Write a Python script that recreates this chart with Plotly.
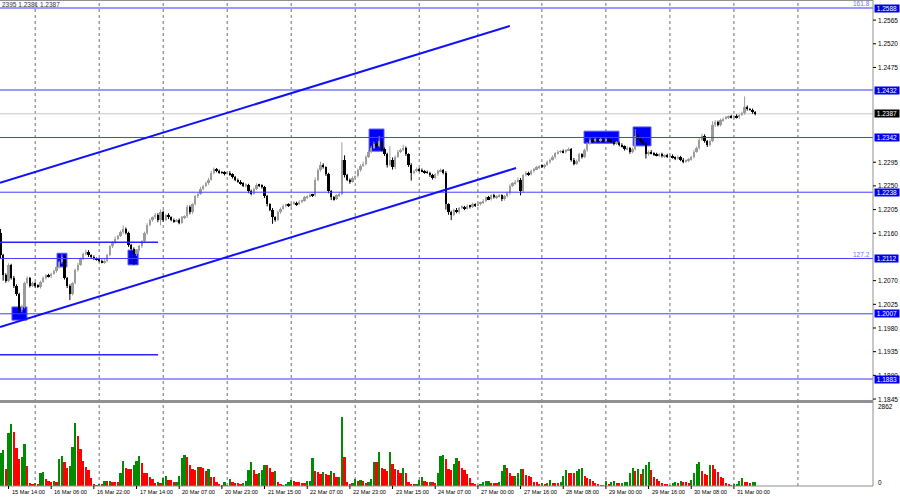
import plotly.graph_objects as go

# ---------------- data ----------------
first_open = 1.2160
closes = [
    1.2118, 1.2080, 1.2070, 1.2100, 1.2075, 1.2060, 1.2045, 1.2015, 1.2020, 1.2065,
    1.2075, 1.2060, 1.2065, 1.2060, 1.2058, 1.2068, 1.2075, 1.2080, 1.2078, 1.2083,
    1.2088, 1.2095, 1.2105, 1.2115, 1.2075, 1.2060, 1.2045, 1.2065, 1.2090, 1.2100,
    1.2112, 1.2120, 1.2125, 1.2118, 1.2115, 1.2112, 1.2110, 1.2108, 1.2105, 1.2108,
    1.2118, 1.2135, 1.2142, 1.2150, 1.2155, 1.2162, 1.2168, 1.2160, 1.2138, 1.2130,
    1.2120, 1.2128, 1.2135, 1.2145, 1.2160, 1.2175, 1.2185, 1.2190, 1.2195, 1.2185,
    1.2200, 1.2185, 1.2195, 1.2190, 1.2185, 1.2183, 1.2185, 1.2180, 1.2190, 1.2192,
    1.2210, 1.2200, 1.2215, 1.2230, 1.2235, 1.2245, 1.2250, 1.2255, 1.2262, 1.2275,
    1.2282, 1.2278, 1.2276, 1.2275, 1.2273, 1.2275, 1.2272, 1.2266, 1.2262, 1.2258,
    1.2255, 1.2250, 1.2252, 1.2240, 1.2235, 1.2245, 1.2252, 1.2250, 1.2248, 1.2230,
    1.2215, 1.2205, 1.2190, 1.2185, 1.2200, 1.2207, 1.2212, 1.2214, 1.2212, 1.2216,
    1.2218, 1.2215, 1.2220, 1.2222, 1.2228, 1.2230, 1.2233, 1.2232, 1.2262, 1.2280,
    1.2290, 1.2285, 1.2272, 1.2240, 1.2228, 1.2225, 1.2232, 1.2235, 1.2300, 1.2270,
    1.2262, 1.2258, 1.2265, 1.2268, 1.2280, 1.2288, 1.2292, 1.2305, 1.2315, 1.2322,
    1.2330, 1.2325, 1.2335, 1.2320, 1.2310, 1.2290, 1.2300, 1.2285, 1.2305, 1.2315,
    1.2318, 1.2322, 1.2310, 1.2290, 1.2275, 1.2278, 1.2282, 1.2280, 1.2278, 1.2276,
    1.2275, 1.2270, 1.2265, 1.2272, 1.2278, 1.2280, 1.2275, 1.2215, 1.2200, 1.2195,
    1.2205, 1.2200, 1.2208, 1.2210, 1.2207, 1.2212, 1.2210, 1.2215, 1.2213, 1.2216,
    1.2218, 1.2222, 1.2228, 1.2225, 1.2232, 1.2228, 1.2230, 1.2232, 1.2225, 1.2230,
    1.2236, 1.2250, 1.2255, 1.2258, 1.2262, 1.2240, 1.2270, 1.2275, 1.2272, 1.2278,
    1.2282, 1.2285, 1.2288, 1.2286, 1.2290, 1.2295, 1.2300, 1.2305, 1.2312, 1.2315,
    1.2316, 1.2314, 1.2318, 1.2320, 1.2300, 1.2292, 1.2298, 1.2310, 1.2305, 1.2318,
    1.2330, 1.2338, 1.2335, 1.2340, 1.2336, 1.2338, 1.2335, 1.2340, 1.2337, 1.2334,
    1.2330, 1.2332, 1.2328, 1.2325, 1.2320, 1.2322, 1.2315, 1.2320, 1.2345, 1.2340,
    1.2335, 1.2330, 1.2310, 1.2315, 1.2312, 1.2310, 1.2308, 1.2310, 1.2306, 1.2308,
    1.2305, 1.2307, 1.2304, 1.2302, 1.2305, 1.2300, 1.2296, 1.2298, 1.2300, 1.2305,
    1.2315, 1.2322, 1.2338, 1.2345, 1.2335, 1.2328, 1.2335, 1.2365, 1.2372, 1.2365,
    1.2375, 1.2378, 1.2380, 1.2382, 1.2380, 1.2383, 1.2380, 1.2385, 1.2388, 1.2400,
    1.2396, 1.2395, 1.2390, 1.2387,
]
upper_wick_pips = [
    8, 3, 4, 3, 2, 4, 3, 2, 4, 3,  3, 2, 3, 2, 3, 2, 3, 2, 3, 2,
    3, 2, 3, 5, 3, 2, 3, 2, 3, 4,  2, 3, 4, 3, 2, 3, 2, 3, 2, 3,
    3, 2, 3, 4, 2, 3, 7, 3, 3, 2,  3, 2, 3, 2, 3, 4, 3, 2, 3, 3,
    5, 3, 2, 3, 2, 3, 2, 3, 3, 2,  4, 3, 2, 3, 2, 3, 2, 3, 3, 4,
    3, 2, 3, 2, 3, 2, 3, 2, 3, 2,  3, 2, 3, 2, 3, 2, 3, 2, 3, 2,
    3, 2, 3, 2, 3, 2, 3, 2, 3, 2,  3, 2, 3, 2, 3, 2, 3, 2, 4, 3,
    6, 3, 2, 3, 2, 3, 2, 3, 33, 8, 3, 2, 3, 2, 3, 3, 4, 3, 3, 4,
    4, 3, 10, 4, 3, 3, 25, 4, 3, 3, 3, 6, 3, 2, 3, 2, 3, 2, 3, 2,
    3, 2, 3, 2, 3, 3, 2, 3, 2, 3,  2, 3, 2, 3, 2, 3, 2, 3, 2, 3,
    2, 3, 2, 3, 2, 3, 2, 3, 2, 3,  3, 3, 2, 3, 4, 3, 2, 3, 2, 3,
    2, 3, 2, 3, 2, 3, 2, 3, 2, 3,  2, 3, 2, 3, 2, 3, 2, 3, 2, 3,
    3, 3, 2, 3, 2, 3, 2, 3, 2, 3,  2, 3, 2, 3, 2, 3, 2, 3, 13, 4,
    3, 2, 3, 2, 3, 2, 3, 2, 3, 2,  3, 2, 3, 2, 3, 2, 3, 2, 3, 2,
    3, 3, 4, 4, 3, 2, 3, 8, 3, 2,  3, 2, 3, 2, 3, 2, 3, 2, 3, 20,
    3, 2, 2, 2,
]
lower_wick_pips = [
    5, 10, 4, 3, 3, 4, 4, 7, 5, 3,  2, 3, 2, 3, 2, 3, 2, 3, 2, 3,
    2, 3, 2, 3, 3, 4, 12, 3, 2, 3,  2, 3, 2, 3, 2, 3, 2, 3, 2, 3,
    3, 2, 3, 2, 3, 2, 3, 2, 4, 3,  20, 3, 2, 3, 2, 3, 2, 3, 3, 4,
    10, 3, 2, 3, 2, 3, 2, 3, 2, 3,  3, 4, 3, 2, 3, 2, 3, 2, 3, 2,
    3, 2, 3, 2, 3, 2, 3, 2, 3, 2,  3, 2, 3, 4, 3, 2, 3, 2, 3, 3,
    4, 3, 12, 3, 2, 3, 2, 3, 2, 3,  2, 3, 2, 3, 2, 3, 2, 3, 3, 3,
    3, 2, 3, 4, 5, 3, 2, 3, 3, 4,  3, 4, 2, 3, 2, 3, 2, 3, 2, 3,
    2, 3, 2, 4, 3, 5, 3, 4, 3, 2,  3, 2, 3, 4, 15, 3, 2, 3, 2, 3,
    2, 3, 3, 2, 3, 2, 3, 10, 5, 10,  3, 2, 3, 2, 3, 2, 3, 2, 3, 2,
    3, 2, 3, 2, 3, 2, 3, 2, 4, 3,  2, 3, 2, 3, 2, 8, 3, 2, 3, 2,
    3, 2, 3, 2, 3, 2, 3, 2, 3, 2,  3, 2, 3, 2, 4, 3, 2, 3, 3, 2,
    3, 2, 3, 2, 3, 2, 3, 2, 3, 2,  3, 2, 3, 2, 3, 2, 4, 3, 3, 2,
    3, 2, 8, 3, 2, 3, 2, 3, 2, 3,  2, 3, 2, 3, 2, 3, 3, 2, 3, 2,
    3, 2, 3, 2, 3, 4, 3, 2, 3, 2,  2, 3, 2, 3, 2, 3, 2, 3, 2, 3,
    3, 2, 3, 3,
]
volumes = [
    1200, 1284, 600, 1920, 2220, 1944, 1380, 960, 1044, 1500,
    720, 120, 60, 120, 84, 456, 504, 240, 180, 156,
    180, 156, 960, 1080, 864, 660, 720, 1404, 2256, 1800,
    1320, 900, 684, 564, 276, 84, 36, 84, 60, 180,
    170, 185, 160, 150, 140, 480, 900, 636, 624, 600,
    756, 900, 1080, 840, 480, 470, 324, 240, 120, 156,
    120, 276, 360, 204, 200, 144, 156, 360, 996, 1104,
    1056, 756, 624, 564, 684, 670, 660, 540, 600, 324,
    320, 156, 60, 20, 132, 30, 240, 156, 120, 96,
    90, 120, 180, 564, 864, 576, 444, 468, 576, 744,
    740, 660, 504, 540, 156, 60, 36, 40, 156, 216,
    180, 156, 144, 120, 115, 180, 185, 1020, 540, 504,
    420, 504, 420, 410, 540, 480, 324, 330, 2484, 1044,
    156, 60, 108, 240, 180, 204, 180, 120, 156, 240,
    864, 860, 1224, 660, 600, 540, 1224, 804, 600, 590,
    480, 636, 480, 156, 84, 60, 84, 204, 324, 180,
    144, 150, 140, 120, 480, 1080, 1104, 960, 600, 564,
    804, 1020, 900, 636, 576, 420, 300, 120, 84, 24,
    60, 132, 180, 185, 120, 108, 96, 132, 540, 756,
    636, 480, 360, 365, 480, 624, 620, 396, 360, 324,
    156, 150, 60, 108, 84, 120, 204, 120, 115, 108,
    144, 348, 576, 480, 475, 470, 540, 600, 660, 360,
    300, 240, 180, 120, 84, 36, 20, 180, 84, 156,
    180, 120, 115, 120, 144, 150, 480, 636, 540, 624,
    444, 600, 756, 864, 576, 324, 240, 180, 120, 84,
    60, 24, 96, 144, 120, 180, 144, 140, 120, 216,
    480, 804, 864, 540, 420, 396, 756, 744, 600, 504,
    324, 300, 120, 84, 36, 40, 84, 180, 300, 144,
    132, 108, 144, 150,
]

time_labels = ["15 Mar 14:00", "16 Mar 06:00", "16 Mar 22:00", "17 Mar 14:00",
               "20 Mar 07:00", "20 Mar 23:00", "21 Mar 15:00", "22 Mar 07:00",
               "22 Mar 23:00", "23 Mar 15:00", "24 Mar 07:00", "27 Mar 00:00",
               "27 Mar 16:00", "28 Mar 08:00", "29 Mar 00:00", "29 Mar 16:00",
               "30 Mar 08:00", "31 Mar 00:00"]
time_label_bars = [3, 19, 35, 51, 67, 83, 99, 115, 131, 147, 163, 179,
                   195, 211, 227, 243, 259, 275]
day_start_bars = [13, 37, 61, 85, 109, 133, 157, 179, 203, 227, 251, 275, 299]

price_ticks = [1.2565, 1.2520, 1.2475, 1.2295, 1.2250, 1.2205, 1.2160,
               1.2070, 1.2025, 1.1980, 1.1935, 1.1890, 1.1845]
strong_levels = [1.2588, 1.2432, 1.1883]
thin_levels = [1.2342, 1.2238, 1.2112, 1.2007]
current_price = 1.2387
fib_labels = [("161.8", 1.2588), ("127.2", 1.2112)]
short_levels = [1.2143, 1.1929]
short_level_end_bar = 59.1
channel_upper = [(-0.19, 1.2256), (191.0, 1.2554)]
channel_lower = [(-0.19, 1.1982), (193.3, 1.2284)]
zones = [(4.3, 9.9, 1.1995, 1.2020), (21.2, 24.9, 1.2096, 1.2122),
         (47.8, 51.6, 1.2100, 1.2128), (138.2, 143.8, 1.2316, 1.2358),
         (218.8, 231.9, 1.2331, 1.2354), (237.2, 243.9, 1.2326, 1.2362)]
vol_max_label = 2862
header_text = "2395 1.2381 1.2387"

# ---------------- derived ----------------
n = len(closes)
bars = list(range(n))
opens = [first_open] + closes[:-1]
highs = [round(max(o, c) + u / 10000, 5) for o, c, u in zip(opens, closes, upper_wick_pips)]
lows = [round(min(o, c) - l / 10000, 5) for o, c, l in zip(opens, closes, lower_wick_pips)]
is_up = [c >= o for o, c in zip(opens, closes)]
vol_colors = ["#008C00" if i > 0 and volumes[i] > volumes[i - 1] else "#FF0000" for i in range(n)]
vol_colors[0] = "#008C00"

UP_COL = "#9C9C9C"
DN_COL = "#000000"

X_RANGE = [-0.19, 327.15]
Y_RANGE = [1.18432, 1.26032]
XD = 873 / 900
FONT = "Liberation Sans"
AX_FS = 6.5
TIME_FS = 5.6

fig = go.Figure()
for up, col in ((True, UP_COL), (False, DN_COL)):
    wx, wy = [], []
    for i in bars:
        if is_up[i] == up:
            wx += [i, i, None]
            wy += [lows[i], highs[i], None]
    fig.add_trace(go.Scatter(x=wx, y=wy, mode="lines", line=dict(color=col, width=1),
                             xaxis="x", yaxis="y", showlegend=False, hoverinfo="skip"))
body_base = [min(o, c) for o, c in zip(opens, closes)]
body_h = [max(abs(c - o), 0.00008) for o, c in zip(opens, closes)]
fig.add_trace(go.Bar(
    x=bars, y=body_h, base=body_base, width=0.9,
    marker=dict(color=[UP_COL if u else DN_COL for u in is_up], line=dict(width=0)),
    xaxis="x", yaxis="y", showlegend=False, hoverinfo="skip",
))
fig.add_trace(go.Bar(
    x=bars, y=volumes, marker=dict(color=vol_colors, line=dict(width=0)),
    width=0.8, xaxis="x2", yaxis="y2", showlegend=False, hoverinfo="skip",
))

shapes = []
ann = []
for x0, x1, p0, p1 in zones:
    shapes.append(dict(type="rect", xref="x", yref="y", x0=x0, x1=x1, y0=p0, y1=p1,
                       fillcolor="#0000FF", line=dict(color="#5555FF", width=1), layer="below"))
for b in day_start_bars:
    shapes.append(dict(type="line", xref="x", yref="paper", x0=b, x1=b, y0=0.028, y1=1,
                       line=dict(color="#707070", width=1, dash="dot"), layer="below"))
for p in strong_levels:
    shapes.append(dict(type="line", xref="paper", yref="y", x0=0, x1=XD, y0=p, y1=p,
                       line=dict(color="#9A9AFF", width=2)))
for p in thin_levels:
    shapes.append(dict(type="line", xref="paper", yref="y", x0=0, x1=XD, y0=p, y1=p,
                       line=dict(color="#4040FF", width=1)))
shapes.append(dict(type="line", xref="paper", yref="y", x0=0, x1=XD, y0=current_price, y1=current_price,
                   line=dict(color="#C8C8C8", width=1), layer="below"))
for p in short_levels:
    shapes.append(dict(type="line", xref="x", yref="y", x0=X_RANGE[0], x1=short_level_end_bar, y0=p, y1=p,
                       line=dict(color="#2525FF", width=1.5)))
for (a, b) in (channel_upper, channel_lower):
    shapes.append(dict(type="line", xref="x", yref="y", x0=a[0], y0=a[1], x1=b[0], y1=b[1],
                       line=dict(color="#1010FF", width=2)))
shapes.append(dict(type="line", xref="paper", yref="paper", x0=0, x1=XD, y0=0.999, y1=0.999,
                   line=dict(color="#909090", width=1)))
shapes.append(dict(type="line", xref="paper", yref="paper", x0=0, x1=XD, y0=1 - 401.5 / 500, y1=1 - 401.5 / 500,
                   line=dict(color="#909090", width=3)))
shapes.append(dict(type="line", xref="paper", yref="paper", x0=0, x1=XD, y0=0.028, y1=0.028,
                   line=dict(color="#909090", width=1)))
shapes.append(dict(type="line", xref="paper", yref="paper", x0=XD, x1=XD, y0=0.028, y1=1,
                   line=dict(color="#909090", width=1)))

for p in price_ticks:
    shapes.append(dict(type="line", xref="paper", yref="y", x0=XD, x1=XD + 3 / 900, y0=p, y1=p,
                       line=dict(color="#000000", width=1)))
    ann.append(dict(xref="paper", yref="y", x=XD + 3 / 900, y=p, text=f"{p:.4f}", showarrow=False,
                    xanchor="left", yanchor="middle", font=dict(family=FONT, size=AX_FS, color="#000000")))
for p in strong_levels + thin_levels:
    ann.append(dict(xref="paper", yref="y", x=XD + 0.5 / 900, y=p, text=f" {p:.4f} ", showarrow=False,
                    xanchor="left", yanchor="middle", bgcolor="#0000F0", borderpad=0,
                    font=dict(family=FONT, size=AX_FS, color="#FFFFFF")))
ann.append(dict(xref="paper", yref="y", x=XD + 0.5 / 900, y=current_price, text=f" {current_price:.4f} ",
                showarrow=False, xanchor="left", yanchor="middle", bgcolor="#000000", borderpad=0,
                font=dict(family=FONT, size=AX_FS, color="#FFFFFF")))
for txt, p in fib_labels:
    ann.append(dict(xref="paper", yref="y", x=XD - 1 / 900, y=p, text=txt, showarrow=False,
                    xanchor="right", yanchor="bottom", yshift=-1,
                    font=dict(family=FONT, size=AX_FS, color="#7070FF")))
ann.append(dict(xref="paper", yref="y2", x=XD + 3 / 900, y=vol_max_label, text=str(vol_max_label),
                showarrow=False, xanchor="left", yanchor="middle",
                font=dict(family=FONT, size=AX_FS, color="#000000")))
ann.append(dict(xref="paper", yref="y2", x=XD + 3 / 900, y=120, text="0",
                showarrow=False, xanchor="left", yanchor="middle",
                font=dict(family=FONT, size=AX_FS, color="#000000")))
for b, t in zip(time_label_bars, time_labels):
    shapes.append(dict(type="line", xref="x", yref="paper", x0=b, x1=b, y0=0.028, y1=0.022,
                       line=dict(color="#000000", width=1)))
    ann.append(dict(xref="x", yref="paper", x=b, y=0.016, text=t, showarrow=False,
                    xanchor="left", yanchor="middle", xshift=1,
                    font=dict(family=FONT, size=TIME_FS, color="#000000")))
ann.append(dict(xref="paper", yref="paper", x=0, y=1, text=header_text, showarrow=False,
                xanchor="left", yanchor="top", yshift=1,
                font=dict(family=FONT, size=AX_FS, color="#333333")))

fig.update_layout(
    width=900, height=500, margin=dict(l=0, r=0, t=0, b=0, pad=0),
    paper_bgcolor="#FFFFFF", plot_bgcolor="#FFFFFF",
    showlegend=False, bargap=0, barmode="overlay",
    xaxis=dict(domain=[0, XD], range=X_RANGE, showgrid=False, zeroline=False, showticklabels=False,
               anchor="y", fixedrange=True),
    yaxis=dict(domain=[0.2, 1.0], range=Y_RANGE, showgrid=False, zeroline=False, showticklabels=False,
               anchor="x", fixedrange=True),
    xaxis2=dict(domain=[0, XD], range=X_RANGE, showgrid=False, zeroline=False, showticklabels=False,
                anchor="y2", matches="x"),
    yaxis2=dict(domain=[0.028, 0.194], range=[0, 2990], showgrid=False, zeroline=False,
                showticklabels=False, anchor="x2", fixedrange=True),
    shapes=shapes, annotations=ann,
)
fig.write_html("out.html", config={"displayModeBar": False},
               post_script="document.body.style.margin='0';document.body.style.padding='0';"
                           "document.body.style.overflow='hidden';")
